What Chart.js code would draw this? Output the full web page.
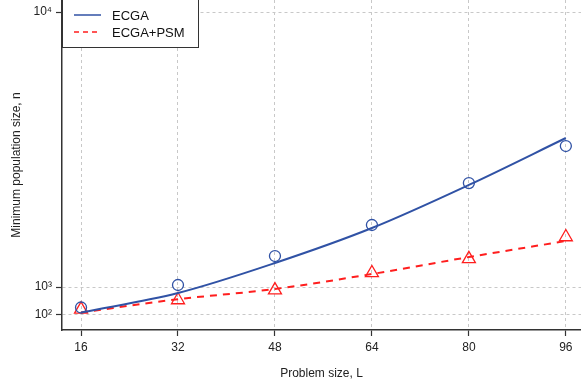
<!DOCTYPE html>
<html>
<head>
<meta charset="utf-8">
<script src="https://cdn.jsdelivr.net/npm/chart.js@4.4.1/dist/chart.umd.min.js"></script>
<style>
  html, body { margin: 0; padding: 0; background: #fff; }
  #wrap { width: 581px; height: 387px; }
</style>
</head>
<body>
<div id="wrap"><canvas id="chart"></canvas></div>
<script>
const problemSizes = [16, 32, 48, 64, 80, 96]
const ecgaFit = [165, 804, 1785, 2930, 4340, 5876]
const psmFit = [165, 600, 935, 1425, 1980, 2505]
const ecgaMeasured = [329, 1065, 2014, 3029, 4403, 5614]
const psmMeasured = [267, 575, 900, 1460, 1920, 2636]
const yTicks = [100, 1000, 10000]
const yTickLabels = ['10²', '10³', '10⁴']

const blue = 'rgb(48, 82, 165)'
const red = 'rgb(255, 30, 30)'
const fontFamily = '"Liberation Sans", Arial, sans-serif'

const pts = (ys) => problemSizes.map((x, i) => ({ x: x, y: ys[i] }))

// legend box drawn by hand, top-left of the plot
const legendBox = {
  id: 'legendBox',
  afterDraw(chart) {
    const ctx = chart.ctx
    const left = chart.chartArea.left
    ctx.save()
    ctx.fillStyle = '#fff'
    ctx.fillRect(left, -2, 136, 50)
    ctx.strokeStyle = '#333'
    ctx.lineWidth = 1
    ctx.strokeRect(left + 0.5, -2, 136, 49.5)
    const rows = [
      { label: 'ECGA', color: blue, dash: [], y: 15 },
      { label: 'ECGA+PSM', color: red, dash: [5, 4], y: 32 }
    ]
    rows.forEach((r) => {
      ctx.strokeStyle = r.color
      ctx.lineWidth = 1.5
      ctx.setLineDash(r.dash)
      ctx.beginPath()
      ctx.moveTo(left + 12, r.y)
      ctx.lineTo(left + 39, r.y)
      ctx.stroke()
      ctx.setLineDash([])
      ctx.fillStyle = '#111'
      ctx.font = '13px ' + fontFamily
      ctx.textBaseline = 'middle'
      ctx.fillText(r.label, left + 50, r.y + 1)
    })
    ctx.restore()
  }
}

const noPad = (axis) => {
  axis.paddingTop = 0
  axis.paddingBottom = 0
  axis.paddingLeft = 0
  axis.paddingRight = 0
}

new Chart(document.getElementById('chart').getContext('2d'), {
  type: 'line',
  data: {
    datasets: [
      {
        label: 'ECGA',
        data: pts(ecgaFit),
        borderColor: blue,
        borderWidth: 2,
        pointRadius: 0,
        cubicInterpolationMode: 'monotone',
        fill: false
      },
      {
        label: 'ECGA+PSM',
        data: pts(psmFit),
        borderColor: red,
        borderWidth: 2,
        borderDash: [7, 6],
        pointRadius: 0,
        cubicInterpolationMode: 'monotone',
        fill: false
      },
      {
        label: 'ECGA data',
        data: pts(ecgaMeasured),
        showLine: false,
        pointStyle: 'circle',
        pointRadius: 5.5,
        pointBorderWidth: 1.3,
        pointBorderColor: blue,
        pointBackgroundColor: 'rgba(0,0,0,0)'
      },
      {
        label: 'ECGA+PSM data',
        data: pts(psmMeasured),
        showLine: false,
        pointStyle: 'triangle',
        pointRadius: 7.5,
        pointBorderWidth: 1.3,
        pointBorderColor: red,
        pointBackgroundColor: 'rgba(0,0,0,0)'
      }
    ]
  },
  options: {
    responsive: true,
    maintainAspectRatio: false,
    animation: false,
    layout: { padding: 0, autoPadding: false },
    plugins: {
      legend: { display: false },
      tooltip: { enabled: false }
    },
    scales: {
      x: {
        type: 'linear',
        min: 12.86,
        max: 98.5,
        afterBuildTicks: (axis) => { axis.ticks = problemSizes.map((v) => ({ value: v })) },
        afterFit: (axis) => { axis.height = 57; noPad(axis) },
        border: { display: true, color: '#333', width: 1.5, dash: [3, 3] },
        grid: {
          color: 'rgb(200,200,200)',
          tickColor: '#333',
          tickBorderDash: [],
          tickLength: 6,
          tickWidth: 1.2
        },
        ticks: { color: '#222', font: { size: 12, family: fontFamily }, padding: 4, maxRotation: 0 },
        title: {
          display: true,
          text: 'Problem size, L',
          color: '#222',
          font: { size: 12, family: fontFamily },
          padding: { top: 0, bottom: 6 }
        }
      },
      y: {
        type: 'linear',
        min: -407,
        max: 10393,
        afterBuildTicks: (axis) => { axis.ticks = yTicks.map((v) => ({ value: v })) },
        afterFit: (axis) => { axis.width = 62; noPad(axis) },
        border: { display: true, color: '#333', width: 1.5, dash: [3, 3] },
        grid: {
          color: 'rgb(200,200,200)',
          tickColor: '#333',
          tickBorderDash: [],
          tickLength: 6,
          tickWidth: 1.2
        },
        ticks: {
          color: '#222',
          font: { size: 12, family: fontFamily },
          padding: 4,
          callback: (v) => yTickLabels[yTicks.indexOf(v)]
        },
        title: {
          display: true,
          text: 'Minimum population size, n',
          color: '#222',
          font: { size: 12, family: fontFamily },
          padding: { top: 9, bottom: 0 }
        }
      }
    }
  },
  plugins: [legendBox]
})
</script>
</body>
</html>
